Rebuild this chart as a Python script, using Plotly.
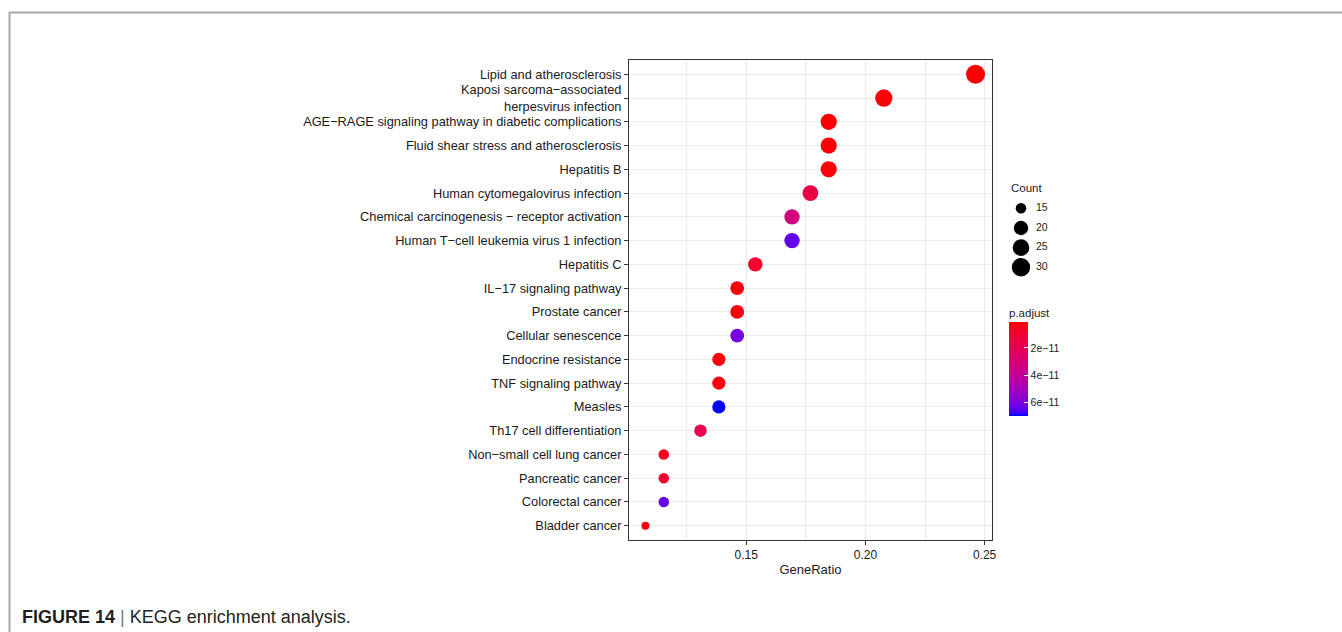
import plotly.graph_objects as go

# ---------------- data ----------------
pathways = [
    "Lipid and atherosclerosis",
    "Kaposi sarcoma\u2212associated<br>herpesvirus infection",
    "AGE\u2212RAGE signaling pathway in diabetic complications",
    "Fluid shear stress and atherosclerosis",
    "Hepatitis B",
    "Human cytomegalovirus infection",
    "Chemical carcinogenesis \u2212 receptor activation",
    "Human T\u2212cell leukemia virus 1 infection",
    "Hepatitis C",
    "IL\u221217 signaling pathway",
    "Prostate cancer",
    "Cellular senescence",
    "Endocrine resistance",
    "TNF signaling pathway",
    "Measles",
    "Th17 cell differentiation",
    "Non\u2212small cell lung cancer",
    "Pancreatic cancer",
    "Colorectal cancer",
    "Bladder cancer",
]
gene_ratio = [0.2462, 0.2077, 0.1846, 0.1846, 0.1846, 0.1769, 0.1692, 0.1692,
              0.1538, 0.1462, 0.1462, 0.1462, 0.1385, 0.1385, 0.1385, 0.1308,
              0.1154, 0.1154, 0.1154, 0.1077]
counts = [32, 27, 24, 24, 24, 23, 22, 22, 20, 19, 19, 19, 18, 18, 18, 17, 15, 15, 15, 14]
p_adjust = [1.0e-12, 2.0e-12, 1.5e-12, 1.5e-12, 2.5e-12, 1.6e-11, 3.2e-11, 6.4e-11,
            9.0e-12, 2.0e-12, 2.5e-12, 6.1e-11, 2.0e-12, 3.0e-12, 7.0e-11, 1.7e-11,
            6.0e-12, 1.0e-11, 6.3e-11, 3.0e-12]
size_legend_counts = [15, 20, 25, 30]
p_ticks = [2e-11, 4e-11, 6e-11]
p_tick_labels = ["2e\u221211", "4e\u221211", "6e\u221211"]
x_ticks = [0.15, 0.20, 0.25]

# ---------------- helpers ----------------
W, H = 1342, 632
FONT = "Liberation Sans, Arial, Helvetica, sans-serif"


def px_x(v):
    return v / W


def px_y(v):
    return 1 - v / H


def _lin(c):
    c = c / 255
    return c / 12.92 if c <= 0.04045 else ((c + 0.055) / 1.055) ** 2.4


def _delin(c):
    c = max(0.0, min(1.0, c))
    v = 12.92 * c if c <= 0.0031308 else 1.055 * c ** (1 / 2.4) - 0.055
    return int(round(v * 255))


def rgb2lab(r, g, b):
    R, G, B = _lin(r), _lin(g), _lin(b)
    X = (0.4124 * R + 0.3576 * G + 0.1805 * B) / 0.95047
    Y = 0.2126 * R + 0.7152 * G + 0.0722 * B
    Z = (0.0193 * R + 0.1192 * G + 0.9505 * B) / 1.08883
    f = lambda t: t ** (1 / 3) if t > 0.008856 else 7.787 * t + 16 / 116
    fx, fy, fz = f(X), f(Y), f(Z)
    return 116 * fy - 16, 500 * (fx - fy), 200 * (fy - fz)


def lab2rgb(L, a, b):
    fy = (L + 16) / 116
    fx = fy + a / 500
    fz = fy - b / 200
    finv = lambda t: t ** 3 if t ** 3 > 0.008856 else (t - 16 / 116) / 7.787
    X = finv(fx) * 0.95047
    Y = finv(fy)
    Z = finv(fz) * 1.08883
    R = 3.2406 * X - 1.5372 * Y - 0.4986 * Z
    G = -0.9689 * X + 1.8758 * Y + 0.0415 * Z
    B = 0.0557 * X - 0.2040 * Y + 1.0570 * Z
    return "rgb(%d,%d,%d)" % (_delin(R), _delin(G), _delin(B))


lab_blue = rgb2lab(0, 0, 255)
lab_red = rgb2lab(255, 0, 0)
N = 30
colorscale = []
for i in range(N + 1):
    t = i / N
    L = lab_blue[0] + (lab_red[0] - lab_blue[0]) * t
    A = lab_blue[1] + (lab_red[1] - lab_blue[1]) * t
    Bb = lab_blue[2] + (lab_red[2] - lab_blue[2]) * t
    colorscale.append([t, lab2rgb(L, A, Bb)])

cmin_n, cmax_n = min(counts), max(counts)


def msize(c):
    return 8 + 11 * ((c - cmin_n) / (cmax_n - cmin_n)) ** 0.5


# colour value: negative p so that small p (red) is at the top of the colour bar
neg_p = [-p for p in p_adjust]

fig = go.Figure()

fig.add_trace(go.Scatter(
    x=gene_ratio, y=pathways, mode="markers",
    marker=dict(
        size=[msize(c) for c in counts],
        color=neg_p, colorscale=colorscale,
        cmin=-max(p_adjust), cmax=-min(p_adjust),
        line=dict(width=0), opacity=1,
        colorbar=dict(
            title=dict(text="p.adjust", side="top",
                       font=dict(family=FONT, size=11.5, color="#1A1A1A")),
            x=px_x(1009), xanchor="left", xpad=0,
            y=px_y(416), yanchor="bottom", ypad=0,
            len=111, lenmode="pixels", thickness=19, thicknessmode="pixels",
            outlinewidth=0,
            tickmode="array", tickvals=[-v for v in p_ticks], ticktext=p_tick_labels,
            ticks="inside", ticklen=4, tickcolor="white", tickwidth=1,
            tickfont=dict(family=FONT, size=10.5, color="#1A1A1A"),
        ),
    ),
    cliponaxis=False, showlegend=False, hoverinfo="x+y",
))

# size legend ("Count")
fig.add_trace(go.Scatter(
    x=[0] * len(size_legend_counts), y=size_legend_counts, mode="markers",
    marker=dict(size=[msize(c) for c in size_legend_counts], color="#000000",
                opacity=1, line=dict(width=0)),
    xaxis="x2", yaxis="y2", cliponaxis=False, showlegend=False, hoverinfo="skip",
))
fig.add_trace(go.Scatter(
    x=[1] * len(size_legend_counts), y=size_legend_counts, mode="text",
    text=[str(c) for c in size_legend_counts], textposition="middle right",
    textfont=dict(family=FONT, size=10.5, color="#1A1A1A"),
    xaxis="x2", yaxis="y2", cliponaxis=False, showlegend=False, hoverinfo="skip",
))

cat_order = list(reversed(pathways))

fig.update_layout(
    width=W, height=H,
    margin=dict(l=0, r=0, t=0, b=0),
    paper_bgcolor="white", plot_bgcolor="white",
    font=dict(family=FONT, color="#1A1A1A"),
    xaxis=dict(
        domain=[px_x(629), px_x(992)], range=[0.1008, 0.2531],
        tickmode="array", tickvals=x_ticks, ticktext=["%.2f" % v for v in x_ticks],
        ticks="outside", ticklen=4, tickcolor="#333333", tickwidth=1,
        tickfont=dict(family=FONT, size=12, color="#1A1A1A"),
        showgrid=True, gridcolor="#EBEBEB", gridwidth=1,
        minor=dict(dtick=0.025, tick0=0, showgrid=True, gridcolor="#EBEBEB", gridwidth=0.6, ticks=""),
        showline=True, mirror=True, linecolor="#333333", linewidth=1,
        zeroline=False, automargin=False,
        title=dict(text="GeneRatio", standoff=3, font=dict(family=FONT, size=13, color="#1A1A1A")),
    ),
    yaxis=dict(
        domain=[px_y(540), px_y(60)],
        type="category", categoryorder="array", categoryarray=cat_order,
        range=[-0.6, len(pathways) - 0.4],
        ticks="outside", ticklen=4, tickcolor="#333333", tickwidth=1,
        tickfont=dict(family=FONT, size=12.8, color="#1A1A1A"),
        showgrid=True, gridcolor="#EBEBEB", gridwidth=1,
        showline=True, mirror=True, linecolor="#333333", linewidth=1,
        zeroline=False, automargin=False,
    ),
    xaxis2=dict(domain=[px_x(1021), px_x(1036)], range=[0, 1], visible=False, fixedrange=True),
    yaxis2=dict(domain=[px_y(280), px_y(196)], range=[33.23, 11.87], visible=False, fixedrange=True),
    annotations=[
        dict(text="Count", x=px_x(1009), y=px_y(188), xref="paper", yref="paper",
             xanchor="left", yanchor="middle", showarrow=False,
             font=dict(family=FONT, size=11.5, color="#1A1A1A")),
        dict(text="<b>FIGURE 14</b> <span style='color:#777'>|</span> KEGG enrichment analysis.",
             x=px_x(20), y=px_y(617), xref="paper", yref="paper",
             xanchor="left", yanchor="middle", showarrow=False,
             font=dict(family=FONT, size=18, color="#231F20")),
    ],
    shapes=[
        dict(type="line", xref="paper", yref="paper", x0=px_x(9), x1=1.0,
             y0=px_y(12.5), y1=px_y(12.5), line=dict(color="#A8A8A8", width=2)),
        dict(type="line", xref="paper", yref="paper", x0=px_x(9.5), x1=px_x(9.5),
             y0=px_y(12), y1=0, line=dict(color="#A8A8A8", width=2)),
    ],
)

fig.write_html("out.html")
